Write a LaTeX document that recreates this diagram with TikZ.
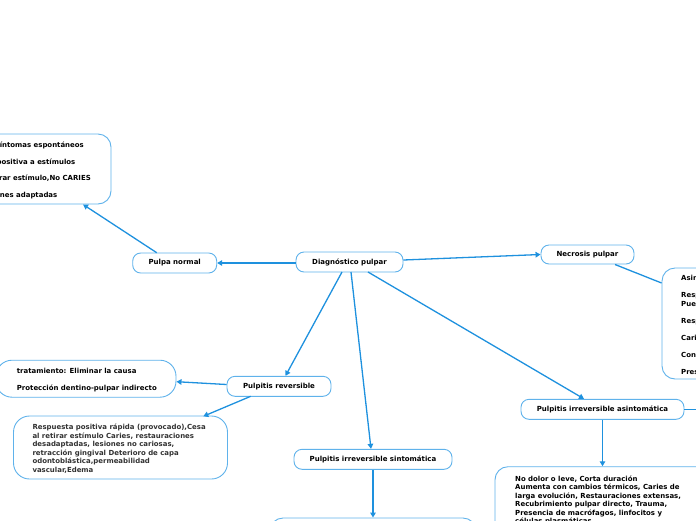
\documentclass[tikz,border=0pt]{standalone}
\usepackage{fontspec}
\setmainfont{DejaVu Sans}
\usetikzlibrary{arrows.meta}
\definecolor{boxline}{RGB}{95,178,235}
\definecolor{arrowc}{RGB}{30,145,222}
\definecolor{desc}{RGB}{50,50,50}
\begin{document}
\begin{tikzpicture}[x=1pt,y=-1pt,
  title/.style={draw=boxline,line width=0.9pt,rounded corners=8pt,fill=white,
    font=\bfseries\fontsize{7}{8.4}\selectfont,inner sep=0pt},
  infobox/.style={draw=boxline,line width=0.9pt,rounded corners=13pt,fill=white,inner sep=0pt},
  desctext/.style={font=\bfseries\fontsize{6.95}{8.5}\selectfont,align=left,inner sep=0pt},
  conn/.style={draw=arrowc,line width=1.3pt},
  arr/.style={conn,-{Triangle[width=5.5pt,length=5pt]}}]
\useasboundingbox (0,0) rectangle (696,520);
\clip (0,0) rectangle (696,520);
% boxes
\node[title,minimum width=107pt,minimum height=20pt] (diag) at (349.5,262) {Diagnóstico pulpar};
\node[title,minimum width=84pt,minimum height=20pt] (normal) at (174.7,263) {Pulpa normal};
\node[title,minimum width=93pt,minimum height=19pt] (necro) at (587.5,254.5) {Necrosis pulpar};
\node[title,minimum width=104pt,minimum height=20pt] (rev) at (279,386.3) {Pulpitis reversible};
\node[title,minimum width=158pt,minimum height=20pt] (sint) at (373,459.3) {Pulpitis irreversible sintomática};
\node[title,minimum width=163pt,minimum height=20pt] (asint) at (602.5,409.3) {Pulpitis irreversible asintomática};
% info boxes
\node[infobox,minimum width=150pt,minimum height=70pt] (normalbox) at (36,169) {};
\node[infobox,minimum width=100pt,minimum height=111pt] (necrobox) at (712,323.5) {};
\node[infobox,minimum width=180pt,minimum height=37pt,rounded corners=16pt] (tratbox) at (86,378.7) {};
\node[infobox,minimum width=214pt,minimum height=63pt,rounded corners=16pt] (respbox) at (120.5,447.5) {};
\node[infobox,minimum width=206pt,minimum height=60pt] (sintbox) at (373,548) {};
\node[infobox,minimum width=230pt,minimum height=100pt] (asintbox) at (610,516.7) {};
% texts
\node[desctext,anchor=base east] (n1) at (84,147.5) {Síntomas espontáneos};
\node[desctext,anchor=base east] (n2) at (75.5,164) {Respuesta positiva a estímulos};
\node[desctext,anchor=base east] (n3) at (91,180.5) {Cesa al retirar estímulo,No CARIES};
\node[desctext,anchor=base east] (n4) at (57.5,197.5) {Restauraciones adaptadas};
\node[desctext,anchor=base west] (k1) at (681,280.5) {Asintomática};
\node[desctext,anchor=base west] (k2) at (681,306) {Respuesta negativa a pruebas\\Puede presentar cambio de color};
\node[desctext,anchor=base west] (k3) at (681,323.5) {Respuesta a la percusión};
\node[desctext,anchor=base west] (k4) at (681,340) {Caries profunda};
\node[desctext,anchor=base west] (k5) at (681,357) {Contenido pulpar necrótico};
\node[desctext,anchor=base west] (k6) at (681,374) {Presencia de lesión periapical};
\node[desctext,anchor=base west] (t1) at (16.7,373.5) {tratamiento: Eliminar la causa};
\node[desctext,anchor=base west] (t2) at (16.7,390.5) {Protección dentino-pulpar indirecto};
\node[desctext,text=desc,anchor=north west] (r1) at (32.3,424.2) {Respuesta positiva rápida (provocado),Cesa\\al retirar estímulo Caries, restauraciones\\desadaptadas, lesiones no cariosas,\\retracción gingival Deterioro de capa\\odontoblástica,permeabilidad\\vascular,Edema};
\node[desctext,anchor=north west] (a1) at (515,475.3) {No dolor o leve, Corta duración\\Aumenta con cambios térmicos, Caries de\\larga evolución, Restauraciones extensas,\\Recubrimiento pulpar directo, Trauma,\\Presencia de macrófagos, linfocitos y\\células plasmáticas};
% connectors
\draw[arr] (diag.west |- 0,263) -- (normal.east |- 0,263);
\draw[arr] (156.7,252.7) -- (normalbox.south -| 83,0);
\draw[arr] (diag.east |- 0,260) -- (necro.west);
\draw[conn] (615,264.5) -- (necrobox.west |- 0,283);
\draw[arr] (342,272) -- (rev.north -| 285.5,0);
\draw[arr] (351,272) -- (sint.north -| 371,0);
\draw[arr] (368,272) -- (asint.north -| 584,0);
\draw[arr] (rev.west |- 0,384.5) -- (tratbox.east |- 0,381.7);
\draw[arr] (250.7,396.3) -- (203.3,416.3);
\draw[arr] (sint.south) -- (sintbox.north);
\draw[arr] (asint.south) -- (asintbox.north -| asint.south);
\coordinate (offright) at (700,409.3);
\draw[conn] (asint.east) -- (offright);
\end{tikzpicture}
\end{document}
